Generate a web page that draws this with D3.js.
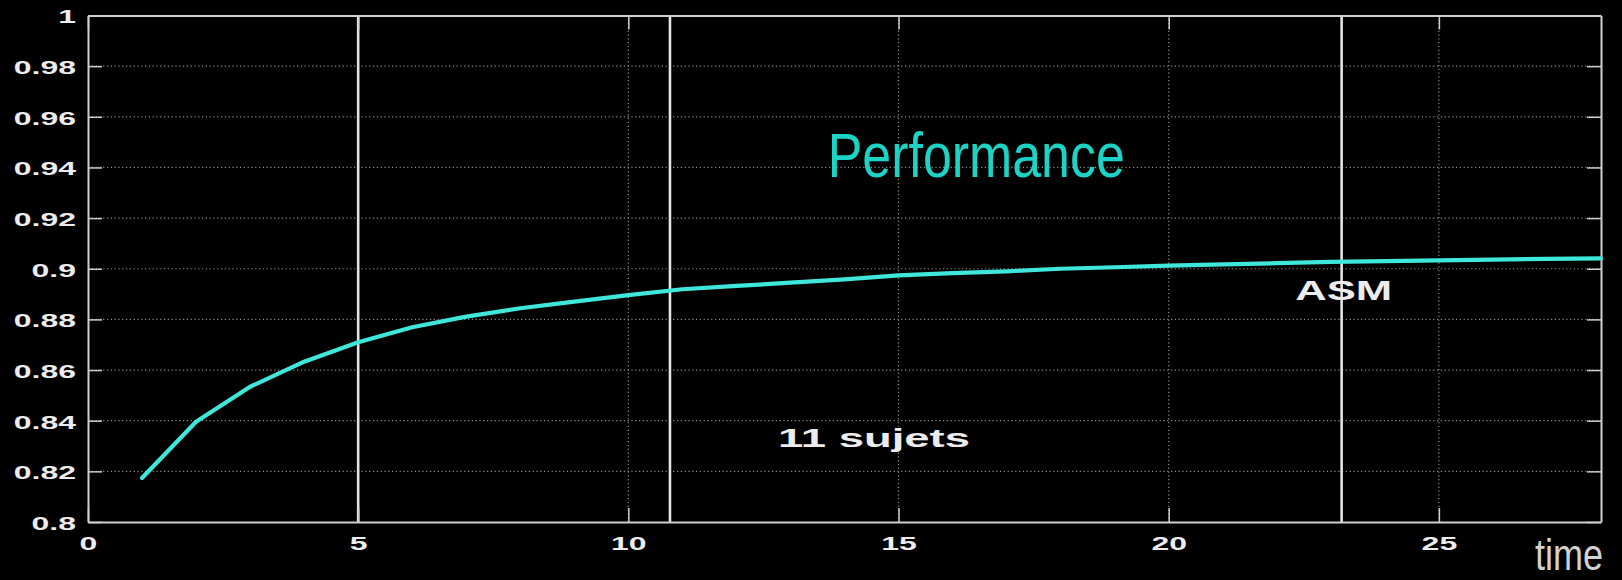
<!DOCTYPE html>
<html>
<head>
<meta charset="utf-8">
<script src="https://cdn.jsdelivr.net/npm/d3@7"></script>
<style>
  html, body { margin: 0; padding: 0; background: #000; }
  svg { display: block; }
  text { font-family: "Liberation Sans", Arial, Helvetica, sans-serif; }
</style>
</head>
<body>
<svg id="chart" width="1622" height="580"></svg>
<script>
// Session index along the x axis, 1..28
const sessions = [1, 2, 3, 4, 5, 6, 7, 8, 9, 10, 11, 12, 13, 14,
                  15, 16, 17, 18, 19, 20, 21, 22, 23, 24, 25, 26, 27, 28];
// Mean performance across the 11 subjects
const performance = [0.8174, 0.8396, 0.8534, 0.8633, 0.8710, 0.8769, 0.8811,
                     0.8844, 0.8870, 0.8896, 0.8919, 0.8932, 0.8945, 0.8958,
                     0.8974, 0.8983, 0.8990, 0.9000, 0.9006, 0.9012, 0.9017,
                     0.9022, 0.9027, 0.9030, 0.9033, 0.9036, 0.9039, 0.9041];
// Solid vertical markers
const markerTimes = [5, 10.77, 23.2];
// Axis ticks
const xTicks = [0, 5, 10, 15, 20, 25];
const xTickLabels = ["0", "5", "10", "15", "20", "25"];
const yTicks = [0.8, 0.82, 0.84, 0.86, 0.88, 0.9, 0.92, 0.94, 0.96, 0.98, 1];
const yTickLabels = ["0.8", "0.82", "0.84", "0.86", "0.88", "0.9", "0.92", "0.94", "0.96", "0.98", "1"];
// Grid lines (dotted)
const xGrid = [10, 15, 20, 25];
const yGrid = [0.82, 0.84, 0.86, 0.88, 0.9, 0.92, 0.94, 0.96, 0.98];

const svg = d3.select("#chart");
const W = 1622, H = 580;
const plot = { left: 88, right: 1601, top: 15.5, bottom: 522 };

svg.append("rect").attr("width", W).attr("height", H).attr("fill", "#000");

const x = d3.scaleLinear().domain([0, 28]).range([plot.left, plot.right]);
const y = d3.scaleLinear().domain([0.8, 1]).range([plot.bottom, plot.top]);

const AXIS = "#cfcfcf";
const LABEL = "#ececec";
const stretch = 1.72;   // wide tick lettering

// dotted grid
const grid = svg.append("g").attr("stroke", "#8c8c8c").attr("stroke-width", 1.2)
  .attr("stroke-dasharray", "1.2,2.6");
grid.selectAll("line.gx").data(xGrid).join("line")
  .attr("x1", d => x(d)).attr("x2", d => x(d))
  .attr("y1", plot.top).attr("y2", plot.bottom);
grid.selectAll("line.gy").data(yGrid).join("line")
  .attr("x1", plot.left).attr("x2", plot.right)
  .attr("y1", d => y(d)).attr("y2", d => y(d));

// solid white vertical markers
svg.append("g").selectAll("line").data(markerTimes).join("line")
  .attr("x1", d => x(d)).attr("x2", d => x(d))
  .attr("y1", plot.top).attr("y2", plot.bottom)
  .attr("stroke", "#e4e4e4").attr("stroke-width", 2.6);

// axes with inward ticks on all four sides
const tickFmt = (labels, values) => d => labels[values.indexOf(d)];

const gx = svg.append("g").attr("transform", `translate(0,${plot.bottom})`)
  .call(d3.axisBottom(x).tickValues(xTicks).tickFormat(tickFmt(xTickLabels, xTicks))
    .tickSizeInner(-14).tickSizeOuter(0).tickPadding(15));
const gy = svg.append("g").attr("transform", `translate(${plot.left},0)`)
  .call(d3.axisLeft(y).tickValues(yTicks).tickFormat(tickFmt(yTickLabels, yTicks))
    .tickSizeInner(-14).tickSizeOuter(0).tickPadding(12));
const gt = svg.append("g").attr("transform", `translate(0,${plot.top})`)
  .call(d3.axisTop(x).tickValues(xTicks).tickFormat("")
    .tickSizeInner(-14).tickSizeOuter(0));
const gr = svg.append("g").attr("transform", `translate(${plot.right},0)`)
  .call(d3.axisRight(y).tickValues(yTicks).tickFormat("")
    .tickSizeInner(-14).tickSizeOuter(0));

[gx, gy, gt, gr].forEach(g => {
  g.select(".domain").attr("stroke", AXIS).attr("stroke-width", 2);
  g.selectAll(".tick line").attr("stroke", AXIS).attr("stroke-width", 1.5);
});

gx.selectAll(".tick text")
  .attr("fill", LABEL).attr("font-size", 18.6).attr("font-weight", "bold")
  .attr("transform", `scale(${stretch},1)`);
gy.selectAll(".tick text")
  .attr("fill", LABEL).attr("font-size", 18.6).attr("font-weight", "bold")
  .attr("x", -12 / stretch).attr("dy", "0.40em")
  .attr("transform", `scale(${stretch},1)`);

// performance curve
const line = d3.line().x((d, i) => x(sessions[i])).y(d => y(d)).curve(d3.curveLinear);
svg.append("path").datum(performance)
  .attr("d", line)
  .attr("fill", "none")
  .attr("stroke", "#3fe6da")
  .attr("stroke-width", 4.2)
  .attr("stroke-linejoin", "round")
  .attr("stroke-linecap", "round");

// annotations
svg.append("text")
  .attr("x", x(13.69)).attr("y", y(0.9362))
  .attr("font-size", 63).attr("fill", "#1cd4c6")
  .attr("textLength", 297).attr("lengthAdjust", "spacingAndGlyphs")
  .text("Performance");

svg.append("text")
  .attr("x", x(12.77)).attr("y", y(0.8296))
  .attr("font-size", 25).attr("font-weight", "bold").attr("fill", LABEL)
  .attr("textLength", 192).attr("lengthAdjust", "spacingAndGlyphs")
  .text("11 sujets");

svg.append("text")
  .attr("x", x(22.34)).attr("y", y(0.8877))
  .attr("font-size", 28).attr("font-weight", "bold").attr("fill", LABEL)
  .attr("textLength", 97).attr("lengthAdjust", "spacingAndGlyphs")
  .text("ASM");

svg.append("text")
  .attr("x", 1535).attr("y", 570)
  .attr("font-size", 44).attr("fill", "#d2d2d2")
  .attr("textLength", 68).attr("lengthAdjust", "spacingAndGlyphs")
  .text("time");
</script>
</body>
</html>
